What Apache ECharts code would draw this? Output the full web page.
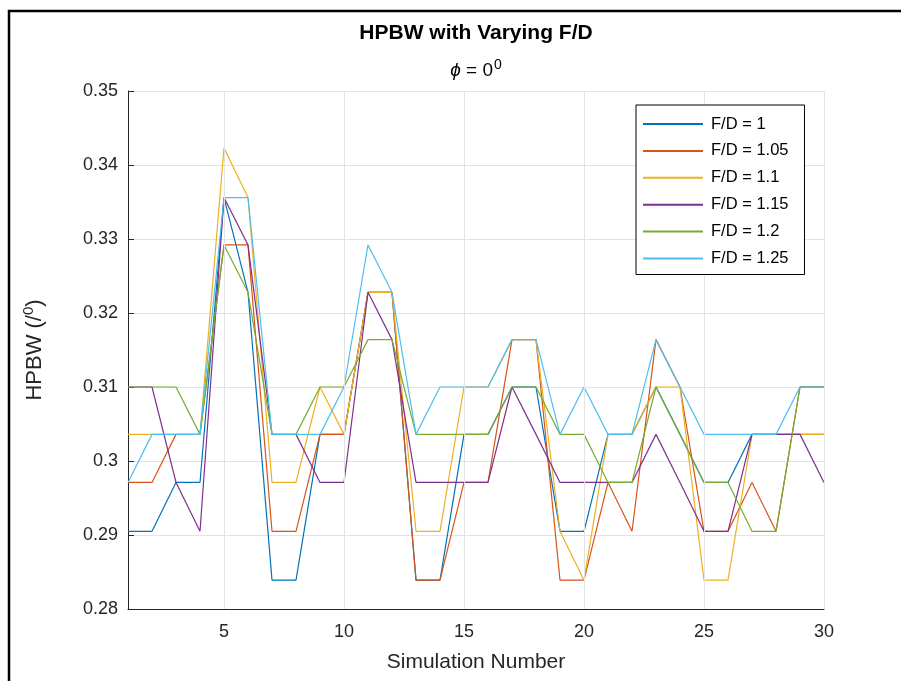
<!DOCTYPE html>
<html>
<head>
<meta charset="utf-8">
<script src="https://cdn.jsdelivr.net/npm/echarts@6/dist/echarts.min.js"></script>
<style>
  html, body { margin: 0; padding: 0; background: #fff; }
  #chart { width: 901px; height: 681px; }
</style>
</head>
<body>
<div id="chart"></div>
<script>
// ---- data ----
const simulationNumbers = [1,2,3,4,5,6,7,8,9,10,11,12,13,14,15,16,17,18,19,20,21,22,23,24,25,26,27,28,29,30];
const xTickValues = [5, 10, 15, 20, 25, 30];
const yTickValues = [0.28, 0.29, 0.30, 0.31, 0.32, 0.33, 0.34, 0.35];
const seriesNames = ['F/D = 1', 'F/D = 1.05', 'F/D = 1.1', 'F/D = 1.15', 'F/D = 1.2', 'F/D = 1.25'];

const fd100 = [0.2905,0.2905,0.2971,0.2971,0.3356,0.3228,0.2839,0.2839,0.3036,0.3036,
               0.3228,0.3228,0.2839,0.2839,0.3036,0.3036,0.3100,0.3100,0.2905,0.2905,
               0.3036,0.3036,0.3100,0.3036,0.2971,0.2971,0.3036,0.3036,0.3036,0.3036];
const fd105 = [0.2971,0.2971,0.3036,0.3036,0.3292,0.3292,0.2905,0.2905,0.3036,0.3036,
               0.3228,0.3228,0.2839,0.2839,0.2971,0.2971,0.3164,0.3164,0.2839,0.2839,
               0.2971,0.2905,0.3164,0.3100,0.2905,0.2905,0.2971,0.2905,0.3100,0.3100];
const fd110 = [0.3036,0.3036,0.3036,0.3036,0.3423,0.3356,0.2971,0.2971,0.3100,0.3036,
               0.3228,0.3228,0.2905,0.2905,0.3100,0.3100,0.3164,0.3164,0.2905,0.2839,
               0.3036,0.3036,0.3100,0.3100,0.2839,0.2839,0.3036,0.3036,0.3036,0.3036];
const fd115 = [0.3100,0.3100,0.2971,0.2905,0.3356,0.3292,0.3036,0.3036,0.2971,0.2971,
               0.3228,0.3164,0.2971,0.2971,0.2971,0.2971,0.3100,0.3036,0.2971,0.2971,
               0.2971,0.2971,0.3036,0.2971,0.2905,0.2905,0.3036,0.3036,0.3036,0.2971];
const fd120 = [0.3100,0.3100,0.3100,0.3036,0.3292,0.3228,0.3036,0.3036,0.3100,0.3100,
               0.3164,0.3164,0.3036,0.3036,0.3036,0.3036,0.3100,0.3100,0.3036,0.3036,
               0.2971,0.2971,0.3100,0.3036,0.2971,0.2971,0.2905,0.2905,0.3100,0.3100];
const fd125 = [0.2971,0.3036,0.3036,0.3036,0.3356,0.3356,0.3036,0.3036,0.3036,0.3100,
               0.3292,0.3228,0.3036,0.3100,0.3100,0.3100,0.3164,0.3164,0.3036,0.3100,
               0.3036,0.3036,0.3164,0.3100,0.3036,0.3036,0.3036,0.3036,0.3100,0.3100];

const seriesValues = [fd100, fd105, fd110, fd115, fd120, fd125];
const seriesColors = ['#0072BD', '#D95319', '#EDB120', '#7E2F8E', '#77AC30', '#4DBEEE'];

const FONT = '"Liberation Sans", Arial, Helvetica, sans-serif';
const chart = echarts.init(document.getElementById('chart'), null, { renderer: 'canvas' });

const series = seriesValues.map((vals, i) => ({
  name: seriesNames[i],
  type: 'line',
  symbol: 'none',
  data: simulationNumbers.map((x, k) => [x, vals[k]]),
  lineStyle: { color: seriesColors[i], width: 1.2 },
  itemStyle: { color: seriesColors[i] },
  emphasis: { disabled: true },
  animation: false,
  z: 3
}));

// vertical grid lines at the x tick values (axis starts at 1)
series.push({
  type: 'line',
  data: [],
  silent: true,
  markLine: {
    silent: true,
    symbol: ['none', 'none'],
    label: { show: false },
    lineStyle: { color: '#e3e3e3', width: 1, type: 'solid' },
    data: xTickValues.map(v => ({ xAxis: v })),
    animation: false
  },
  z: 1
});

const option = {
  animation: false,
  backgroundColor: '#ffffff',
  grid: { left: 128, right: 77, top: 91, bottom: 72, containLabel: false },
  graphic: [
    {
      type: 'rect',
      shape: { x: 9, y: 11, width: 1000, height: 1000 },
      style: { fill: 'none', stroke: '#000', lineWidth: 2.5 },
      silent: true
    },
    {
      type: 'text',
      x: 476, y: 33,
      style: {
        text: 'HPBW with Varying F/D',
        font: 'bold 21px ' + FONT,
        fill: '#000',
        textAlign: 'center',
        textVerticalAlign: 'middle'
      }
    },
    {
      type: 'text',
      x: 476, y: 71,
      style: {
        text: '{i|ϕ}{a| = 0}{s|0}',
        textAlign: 'center',
        textVerticalAlign: 'middle',
        rich: {
          i: { font: 'italic 19px ' + FONT, fill: '#000' },
          a: { font: '19px ' + FONT, fill: '#000' },
          s: { font: '14px ' + FONT, fill: '#000', verticalAlign: 'top', padding: [0, 0, 12, 1] }
        }
      }
    }
  ],
  legend: {
    orient: 'vertical',
    left: 636,
    top: 105,
    itemWidth: 60,
    itemHeight: 14,
    itemGap: 9.9,
    padding: [10.5, 16, 7.5, 6],
    backgroundColor: '#fff',
    borderColor: '#000',
    borderWidth: 1,
    selectedMode: false,
    data: seriesNames,
    itemStyle: { color: 'rgba(0,0,0,0)', borderColor: 'rgba(0,0,0,0)', borderWidth: 0 },
    textStyle: { fontFamily: FONT, fontSize: 16.5, color: '#000', padding: [0, 0, 0, 3] },
    z: 10
  },
  xAxis: {
    type: 'value',
    min: 1,
    max: 30,
    name: 'Simulation Number',
    nameLocation: 'middle',
    nameGap: 43,
    nameTextStyle: { fontFamily: FONT, fontSize: 21, color: '#262626' },
    axisLine: { show: true, onZero: false, lineStyle: { color: '#262626', width: 1 } },
    axisTick: { show: true, inside: true, length: 6, customValues: xTickValues, lineStyle: { color: '#262626' } },
    axisLabel: { show: true, customValues: xTickValues, margin: 14, fontFamily: FONT, fontSize: 18, color: '#262626' },
    splitLine: { show: false }
  },
  yAxis: {
    type: 'value',
    min: 0.28,
    max: 0.35,
    interval: 0.01,
    name: '{a|HPBW (/}{s|0}{a|)}',
    nameLocation: 'middle',
    nameGap: 80,
    nameRotate: 90,
    nameTextStyle: {
      rich: {
        a: { fontFamily: FONT, fontSize: 22, color: '#262626' },
        s: { fontFamily: FONT, fontSize: 15, color: '#262626', verticalAlign: 'top', padding: [0, 0, 12, 0] }
      }
    },
    axisLine: { show: true, lineStyle: { color: '#262626', width: 1 } },
    axisTick: { show: true, inside: true, length: 6, lineStyle: { color: '#262626' } },
    axisLabel: {
      margin: 10, fontFamily: FONT, fontSize: 18, color: '#262626',
      formatter: v => String(+v.toFixed(2))
    },
    splitLine: { show: true, lineStyle: { color: '#e3e3e3', width: 1 } }
  },
  series: series
};

chart.setOption(option);
</script>
</body>
</html>
